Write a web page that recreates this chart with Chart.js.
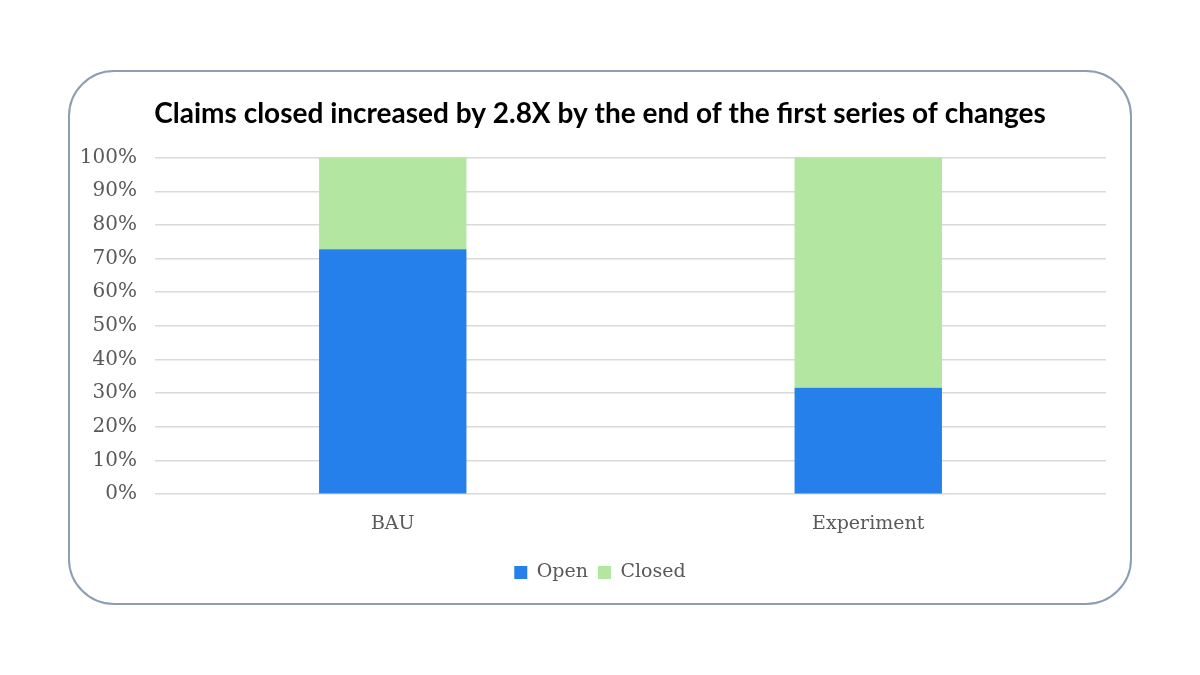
<!DOCTYPE html>
<html><head><meta charset="utf-8">
<script src="https://cdn.jsdelivr.net/npm/chart.js@4"></script>
<style>
html,body{margin:0;padding:0;background:#fff;}
#wrap{position:relative;width:1200px;height:675px;}
#frame{position:absolute;left:68px;top:70px;width:1060px;height:531px;border:2px solid #8d9db3;border-radius:46px;box-sizing:content-box;}
canvas{position:absolute;left:0;top:0;}
</style></head><body>
<div id="wrap"><div id="frame"></div><canvas id="c" width="1200" height="675"></canvas></div>
<script>
const categories = ["BAU", "Experiment"];
const openValues = [72.8, 31.6];
const closedValues = [27.2, 68.4];
const titleText = "Claims closed increased by 2.8X by the end of the first series of changes";

const serif = "'DejaVu Serif', 'Liberation Serif', serif";

// center the title and legend on the page rather than on the padded box
const centerBlocks = {
  id: 'centerBlocks',
  afterLayout(chart) {
    [chart.titleBlock, chart.legend].forEach(b => {
      if (!b) return;
      const d = chart.width / 2 - (b.left + b.right) / 2;
      b.left += d; b.right += d;
    });
  }
};

new Chart(document.getElementById('c'), {
  type: 'bar',
  data: {
    labels: categories,
    datasets: [
      {label: 'Open', data: openValues, backgroundColor: '#2680eb', barPercentage: 0.31, categoryPercentage: 1},
      {label: 'Closed', data: closedValues, backgroundColor: '#b3e6a0', barPercentage: 0.31, categoryPercentage: 1}
    ]
  },
  plugins: [centerBlocks],
  options: {
    responsive: false, animation: false, devicePixelRatio: 1,
    layout: {padding: {left: 78, right: 94, top: 87, bottom: 83}},
    plugins: {
      title: {display: true, text: titleText, color: '#000', font: {family: 'Lato', weight: 'bold', size: 28}, padding: {top: 10, bottom: 27}},
      legend: {position: 'bottom', labels: {color: '#595959', font: {family: serif, size: 19}, boxWidth: 13, boxHeight: 13, padding: 10}},
      tooltip: {enabled: false}
    },
    scales: {
      x: {stacked: true, grid: {display: false}, border: {display: false},
          ticks: {color: '#595959', font: {family: serif, size: 19}, padding: 10},
          title: {display: true, text: ' ', font: {size: 5}, padding: {top: 0, bottom: 2}}},
      y: {stacked: true, min: 0, max: 100, border: {display: false},
          grid: {color: '#d9d9d9', lineWidth: 1.5, drawTicks: false},
          afterFit: s => { s.width = 77; },
          ticks: {stepSize: 10, color: '#595959', font: {family: serif, size: 20}, padding: 18, callback: v => v + '%'}}
    }
  }
});
</script></body></html>
